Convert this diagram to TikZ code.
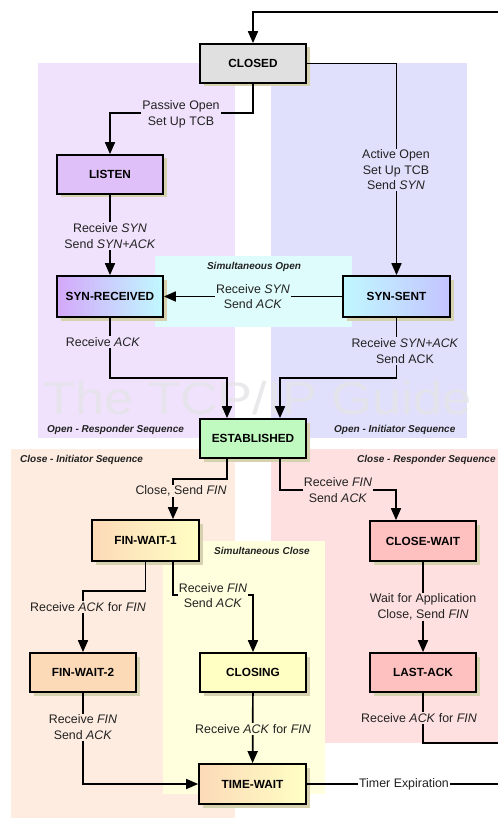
\documentclass[tikz,border=0pt]{standalone}
\usepackage{fontspec}
\setmainfont{Liberation Sans}
\usepackage{graphicx}
\usetikzlibrary{arrows.meta,shadows,calc}
\definecolor{purpleR}{RGB}{240,226,252}
\definecolor{blueR}{RGB}{224,224,252}
\definecolor{simopenR}{RGB}{222,252,252}
\definecolor{peachR}{RGB}{254,236,224}
\definecolor{yellowR}{RGB}{255,255,222}
\definecolor{pinkR}{RGB}{255,224,224}
\definecolor{shadowC}{RGB}{214,210,176}
\definecolor{closedF}{RGB}{224,224,224}
\definecolor{listenF}{RGB}{224,192,248}
\definecolor{srLeft}{RGB}{212,168,250}
\definecolor{cyanF}{RGB}{192,248,255}
\definecolor{ssRight}{RGB}{196,196,255}
\definecolor{estF}{RGB}{192,250,192}
\definecolor{peachF}{RGB}{252,218,184}
\definecolor{yellowF}{RGB}{255,255,196}
\definecolor{pinkF}{RGB}{255,192,192}
\definecolor{wmC}{RGB}{228,228,232}
\definecolor{txtC}{RGB}{34,34,34}
\tikzset{
  state/.style={draw=black, line width=1.7pt, minimum width=106pt, minimum height=39pt,
    inner sep=0pt, font=\fontsize{11.8}{12}\selectfont\bfseries,
    drop shadow={shadow xshift=3.5pt, shadow yshift=-3.5pt, fill=shadowC, opacity=1}},
  lbl/.style={font=\fontsize{12.4}{15.5}\selectfont, align=center, inner sep=1.2pt, text=txtC},
  rtitle/.style={font=\fontsize{10}{12}\selectfont\bfseries\itshape, inner sep=0pt, text=txtC},
  conn/.style={line width=1.7pt, draw=black},
  arr/.style={conn, -{Triangle[length=12pt,width=10pt]}},
  region/.style={draw=none}
}
\begin{document}
\begin{tikzpicture}[x=1pt,y=-1pt]
\useasboundingbox[fill=white] (0,0) rectangle (498,818);
% regions
\fill[purpleR] (38,63) rectangle (235,438);
\fill[blueR] (271,63) rectangle (467,438);
\fill[simopenR] (155,256) rectangle (352,327);
\fill[peachR] (11,449) rectangle (235,818);
\fill[pinkR] (271,449) rectangle (498,743);
\fill[yellowR] (163,541) rectangle (325,794);
% watermark
\node[anchor=base west, inner sep=0pt, text=wmC, opacity=0.8, text depth=0pt,
  font=\fontsize{46}{46}\selectfont] (wm) at (43,414) {\scalebox{1.14}[1]{The TCP/IP Guide}};
% region titles
\node[rtitle] (tSimOpen) at (254,267) {Simultaneous Open};
\node[rtitle, anchor=west] (tOpenResp) at (47,429.5) {Open - Responder Sequence};
\node[rtitle, anchor=west] (tOpenInit) at (334,429.5) {Open - Initiator Sequence};
\node[rtitle, anchor=west] (tCloseInit) at (20,460) {Close - Initiator Sequence};
\node[rtitle, anchor=west] (tCloseResp) at (357,460) {Close - Responder Sequence};
\node[rtitle] (tSimClose) at (262,551) {Simultaneous Close};
% states
\node[state, fill=closedF] (CLOSED) at (253,63.5) {CLOSED};
\node[state, fill=listenF] (LISTEN) at (110,174.5) {LISTEN};
\node[state, minimum height=41pt, left color=srLeft, right color=cyanF] (SYNRCVD) at (110,296.5) {SYN-RECEIVED};
\node[state, minimum height=41pt, minimum width=107pt, left color=cyanF, right color=ssRight] (SYNSENT) at (396.5,296.5) {SYN-SENT};
\node[state, fill=estF] (EST) at (253,438.5) {ESTABLISHED};
\node[state, minimum height=41pt, minimum width=107pt, left color=peachF, right color=yellowF] (FW1) at (145.5,540.5) {FIN-WAIT-1};
\node[state, minimum height=40pt, fill=pinkF] (CW) at (423,541) {CLOSE-WAIT};
\node[state, fill=peachF] (FW2) at (83,672.5) {FIN-WAIT-2};
\node[state, fill=yellowF] (CLOSING) at (253,672.5) {CLOSING};
\node[state, fill=pinkF] (LA) at (423,672.5) {LAST-ACK};
\node[state, minimum height=40pt, minimum width=107pt, left color=peachF, right color=yellowF] (TW) at (252.5,784) {TIME-WAIT};
% coordinates
\coordinate (rTop) at (498,12);
\coordinate (pTurn) at (181,113);
\coordinate (srTurn) at (110,378);
\coordinate (ssTurn) at (396.5,378);
\coordinate (estNW) at ($(EST.north)+(-26,0)$);
\coordinate (estNE) at ($(EST.north)+(27,0)$);
\coordinate (estSW) at ($(EST.south)+(-26,0)$);
\coordinate (estSE) at ($(EST.south)+(27,0)$);
\coordinate (fw1NE) at ($(FW1.north)+(27.5,0)$);
\coordinate (cwNW) at ($(CW.north)+(-27,0)$);
\coordinate (eTurnL) at (227,479);
\coordinate (eTurnR) at (280,490);
\coordinate (f1Turn) at (145.5,591);
\coordinate (fw1SE) at ($(FW1.south)+(27.5,0)$);
\coordinate (f2Turn) at (173,595);
\coordinate (rLA) at (498,743);
\coordinate (rTW) at (498,784);
% connectors
\draw[arr] (rTop) -| (CLOSED.north);
\draw[arr] (CLOSED.east) -| (SYNSENT.north);
\draw[arr] (CLOSED.south) |- (pTurn) -| (LISTEN.north);
\draw[arr] (LISTEN) -- (SYNRCVD);
\draw[arr] (SYNSENT) -- (SYNRCVD);
\draw[arr] (SYNRCVD.south) -- (srTurn) -| (estNW);
\draw[arr] (SYNSENT.south) -- (ssTurn) -| (estNE);
\draw[arr] (estSW) -- (eTurnL) -| (fw1NE);
\draw[arr] (estSE) -- (eTurnR) -| (cwNW);
\draw[arr] (FW1.south) -- (f1Turn) -| (FW2.north);
\draw[arr] (fw1SE) -- (f2Turn) -| (CLOSING.north);
\draw[arr] (CW) -- (LA);
\draw[arr] (FW2.south) |- (TW.west);
\draw[arr] (CLOSING) -- (TW);
\draw[conn] (LA.south) |- (rLA);
\draw[conn] (TW.east) -- (rTW);
% labels
\node[lbl, fill=purpleR] (lPassive) at (181,114.5) {Passive Open\\Set Up TCB};
\node[lbl, fill=blueR] (lActive) at (396,170) {Active Open\\Set Up TCB\\Send \textit{SYN}};
\node[lbl, fill=purpleR] (lRcvSyn) at (110,236) {Receive \textit{SYN}\\Send \textit{SYN+ACK}};
\node[lbl, fill=simopenR] (lSimRcv) at (253,296.5) {Receive \textit{SYN}\\Send \textit{ACK}};
\node[lbl, fill=purpleR] (lRcvAck) at (103,342) {Receive \textit{ACK}};
\node[lbl, fill=blueR] (lRcvSynAck) at (405,351) {Receive \textit{SYN+ACK}\\Send ACK};
\node[lbl, fill=peachR] (lClose) at (181,491) {Close, Send \textit{FIN}};
\node[lbl, fill=pinkR] (lRcvFin1) at (338,490) {Receive \textit{FIN}\\Send \textit{ACK}};
\node[lbl, fill=peachR] (lAckFin1) at (88,607) {Receive \textit{ACK} for \textit{FIN}};
\node[lbl, fill=yellowR] (lRcvFin2) at (213,595.5) {Receive \textit{FIN}\\Send \textit{ACK}};
\node[lbl, fill=pinkR] (lWait) at (423,607) {Wait for Application\\Close, Send \textit{FIN}};
\node[lbl, fill=peachR] (lRcvFin3) at (83,727) {Receive \textit{FIN}\\Send \textit{ACK}};
\node[lbl, fill=yellowR] (lAckFin2) at (253,729) {Receive \textit{ACK} for \textit{FIN}};
\node[lbl, fill=pinkR] (lAckFin3) at (419,718) {Receive \textit{ACK} for \textit{FIN}};
\node[lbl, fill=white] (lTimer) at (404,784) {Timer Expiration};
\end{tikzpicture}
\end{document}
